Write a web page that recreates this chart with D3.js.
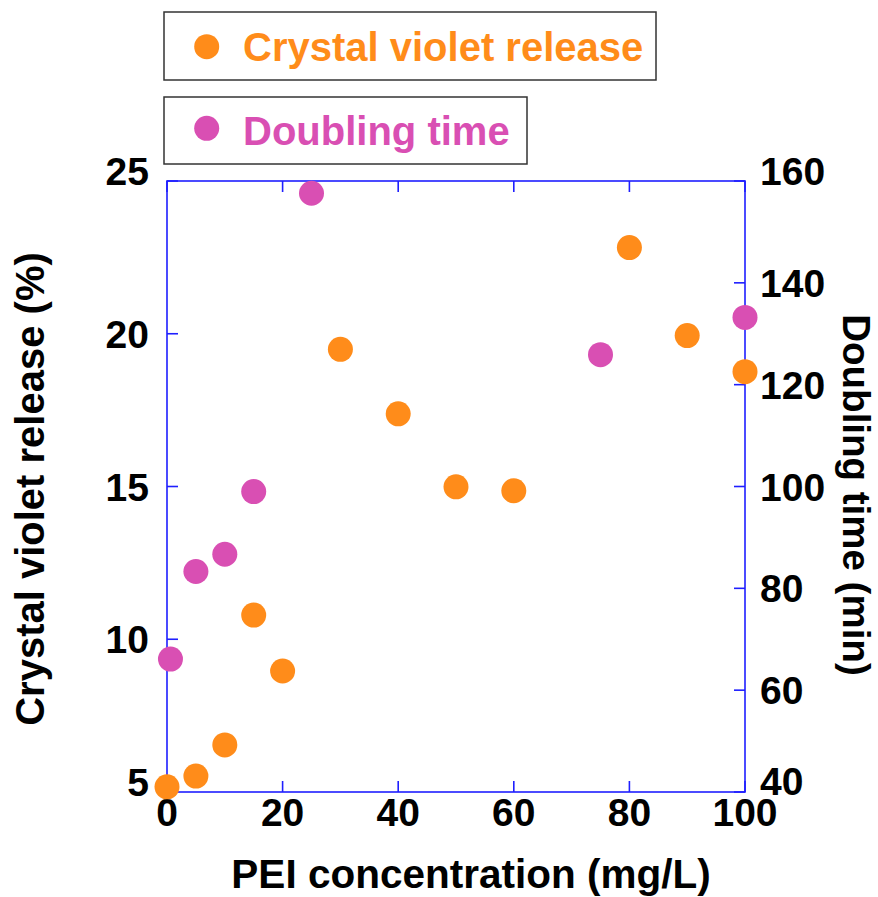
<!DOCTYPE html>
<html><head><meta charset="utf-8">
<script src="https://cdn.jsdelivr.net/npm/d3@7"></script>
<style>
html,body{margin:0;padding:0;background:#fff;}
text{font-family:"Liberation Sans",Arial,sans-serif;font-weight:bold;}
</style></head>
<body><svg id="c" width="878" height="897"></svg>
<script>
// Data
const cvConc = [0, 5, 10, 15, 20, 30, 40, 50, 60, 80, 90, 100];
const cvRelease = [5.17, 5.52, 6.54, 10.79, 8.96, 19.49, 17.38, 14.99, 14.86, 22.82, 19.94, 18.76];
const dtConc = [0.6, 5, 10, 15, 25, 75, 100];
const dtTime = [66.1, 83.3, 86.7, 99.0, 157.6, 125.9, 133.2];
const xTicks = [0, 20, 40, 60, 80, 100];
const yLeftTicks = [5, 10, 15, 20, 25];
const yRightTicks = [40, 60, 80, 100, 120, 140, 160];
const seriesNames = ["Crystal violet release", "Doubling time"];
const colors = ["#FF8C1A", "#D94FB3"];

const L = 167, R = 745, T = 181, B = 792;
const svg = d3.select("#c");
const x = d3.scaleLinear().domain([0, 100]).range([L, R]);
const yL = d3.scaleLinear().domain([5, 25]).range([B, T]);
const yR = d3.scaleLinear().domain([40, 160]).range([B, T]);
const axisColor = "#1f1fff";
const tk = 11;

// frame
svg.append("rect").attr("x", L).attr("y", T).attr("width", R - L).attr("height", B - T)
  .attr("fill", "none").attr("stroke", axisColor).attr("stroke-width", 1.6);

// ticks (inward)
const g = svg.append("g").attr("stroke", axisColor).attr("stroke-width", 1.6);
xTicks.forEach(v => {
  g.append("line").attr("x1", x(v)).attr("x2", x(v)).attr("y1", B).attr("y2", B - tk);
  g.append("line").attr("x1", x(v)).attr("x2", x(v)).attr("y1", T).attr("y2", T + tk);
});
yLeftTicks.forEach(v => {
  g.append("line").attr("x1", L).attr("x2", L + tk).attr("y1", yL(v)).attr("y2", yL(v));
});
yRightTicks.forEach(v => {
  g.append("line").attr("x1", R).attr("x2", R - tk).attr("y1", yR(v)).attr("y2", yR(v));
});

// tick labels
const fs = 39;
xTicks.forEach(v => {
  svg.append("text").attr("x", x(v)).attr("y", 826).attr("text-anchor", "middle")
    .attr("font-size", fs).attr("fill", "#000").text(v);
});
yLeftTicks.forEach((v, i) => {
  let off = (i === 0 || i === yLeftTicks.length - 1) ? -10 : 0;
  svg.append("text").attr("x", 149).attr("y", yL(v) + 14 + off).attr("text-anchor", "end")
    .attr("font-size", fs).attr("fill", "#000").text(v);
});
yRightTicks.forEach((v, i) => {
  let off = (i === 0 || i === yRightTicks.length - 1) ? -10 : 0;
  if (i === 0) off = -11;
  svg.append("text").attr("x", 760).attr("y", yR(v) + 14 + off).attr("text-anchor", "start")
    .attr("font-size", fs).attr("fill", "#000").text(v);
});

// axis titles
svg.append("text").attr("x", 471).attr("y", 888).attr("text-anchor", "middle")
  .attr("font-size", 40.5).attr("fill", "#000").text("PEI concentration (mg/L)");
svg.append("text").attr("transform", "translate(44,489) rotate(-90)").attr("text-anchor", "middle")
  .attr("font-size", 40).attr("fill", "#000").text("Crystal violet release (%)");
svg.append("text").attr("transform", "translate(843,495) rotate(90)").attr("text-anchor", "middle")
  .attr("font-size", 38.5).attr("fill", "#000").text("Doubling time (min)");

// points
const r = 12.5;
svg.append("g").selectAll("circle").data(dtConc.map((c, i) => [c, dtTime[i]])).join("circle")
  .attr("cx", d => x(d[0])).attr("cy", d => yR(d[1])).attr("r", r).attr("fill", colors[1]);
svg.append("g").selectAll("circle").data(cvConc.map((c, i) => [c, cvRelease[i]])).join("circle")
  .attr("cx", d => x(d[0])).attr("cy", d => yL(d[1])).attr("r", r).attr("fill", colors[0]);

// legends
const legends = [
  {name: seriesNames[0], color: colors[0], box: [164, 12, 492, 68], cy: 46.7, base: 61},
  {name: seriesNames[1], color: colors[1], box: [164, 97, 363, 67], cy: 128.3, base: 145}
];
legends.forEach(lg => {
  svg.append("rect").attr("x", lg.box[0]).attr("y", lg.box[1]).attr("width", lg.box[2]).attr("height", lg.box[3])
    .attr("fill", "#fff").attr("stroke", "#333").attr("stroke-width", 1.5);
  svg.append("circle").attr("cx", 206.7).attr("cy", lg.cy).attr("r", 12.5).attr("fill", lg.color);
  svg.append("text").attr("x", 243).attr("y", lg.base).attr("font-size", 40).attr("fill", lg.color).text(lg.name);
});
</script></body></html>
